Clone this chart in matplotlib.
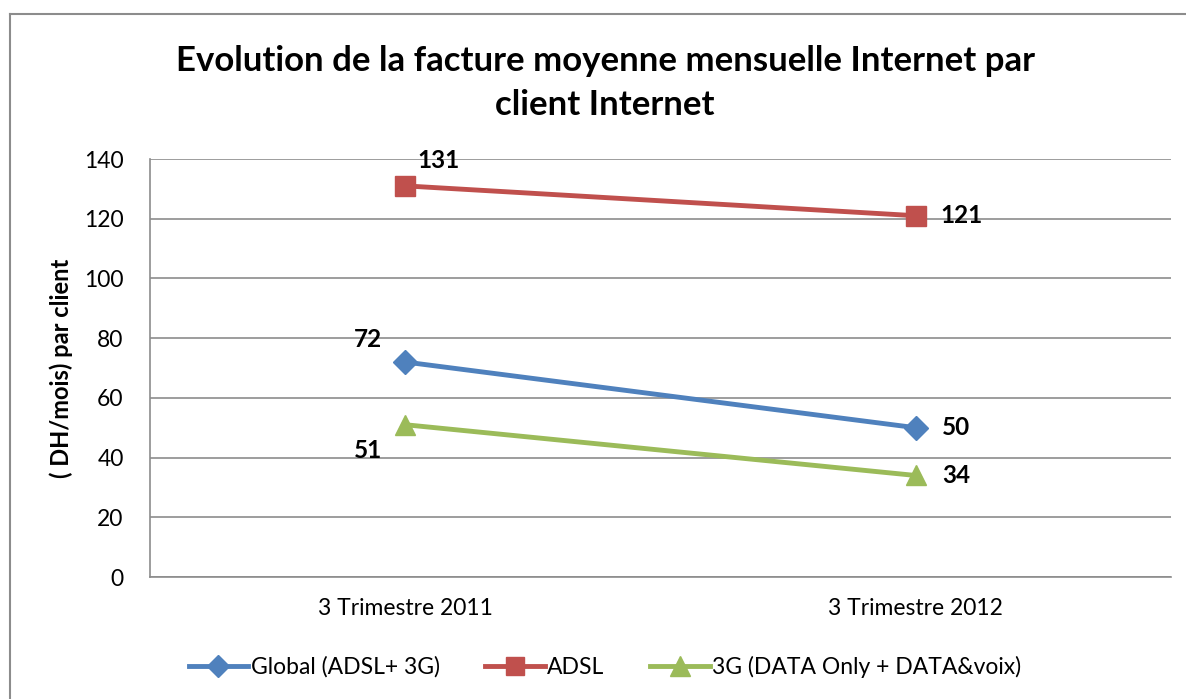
import matplotlib
matplotlib.use("Agg")
import matplotlib.pyplot as plt
from matplotlib.lines import Line2D

plt.rcParams['font.family'] = ['Lato', 'DejaVu Sans']

categories = ["3 Trimestre 2011", "3 Trimestre 2012"]
series_names = ["Global (ADSL+ 3G)", "ADSL", "3G (DATA Only + DATA&voix)"]
global_vals = [72, 50]
adsl_vals = [131, 121]
g3_vals = [51, 34]
yticks = [0, 20, 40, 60, 80, 100, 120, 140]

colors = ["#4F81BD", "#C0504D", "#9BBB59"]
markers = ["D", "s", "^"]
msizes = [12, 14, 15]

fig = plt.figure(figsize=(11.86, 6.99), dpi=100)
ax = fig.add_axes([150/1186, 1-577/699, (1171-150)/1186, (577-159)/699])

x = list(range(len(categories)))
all_vals = [global_vals, adsl_vals, g3_vals]
for vals, c, m, ms, name in zip(all_vals, colors, markers, msizes, series_names):
    ax.plot(x, vals, color=c, lw=3.5, marker=m, markersize=ms, label=name,
            solid_capstyle='round', zorder=3)

# data labels
lab_kw = dict(fontsize=17.5, fontweight='bold', color='black', zorder=4)
ax.annotate(str(adsl_vals[0]), (0, adsl_vals[0]), xytext=(33, 25), textcoords='offset pixels', ha='center', va='center', **lab_kw)
ax.annotate(str(adsl_vals[1]), (1, adsl_vals[1]), xytext=(46, 0), textcoords='offset pixels', ha='center', va='center', **lab_kw)
ax.annotate(str(global_vals[0]), (0, global_vals[0]), xytext=(-37, 23), textcoords='offset pixels', ha='center', va='center', **lab_kw)
ax.annotate(str(global_vals[1]), (1, global_vals[1]), xytext=(40, 0), textcoords='offset pixels', ha='center', va='center', **lab_kw)
ax.annotate(str(g3_vals[0]), (0, g3_vals[0]), xytext=(-37, -26), textcoords='offset pixels', ha='center', va='center', **lab_kw)
ax.annotate(str(g3_vals[1]), (1, g3_vals[1]), xytext=(40, 0), textcoords='offset pixels', ha='center', va='center', **lab_kw)

ax.set_xlim(-0.5, 1.5)
ax.set_ylim(0, 140)
ax.set_yticks(yticks)
ax.set_xticks(x)
ax.set_xticklabels(categories)
ax.tick_params(axis='both', length=0, labelsize=16.5, colors='black')
ax.tick_params(axis='y', pad=19)
ax.tick_params(axis='x', pad=15)
ax.yaxis.grid(True, color='#8C8C8C', lw=1.2)
ax.set_axisbelow(True)
for s in ['top', 'right']:
    ax.spines[s].set_visible(False)
for s in ['left', 'bottom']:
    ax.spines[s].set_color('#8C8C8C')
    ax.spines[s].set_linewidth(1.2)

ax.set_ylabel("( DH/mois) par client", fontsize=17, fontweight='bold', labelpad=8)

fig.text(605/1186, 1-83/699, "Evolution de la facture moyenne mensuelle Internet par\nclient Internet",
         ha='center', va='center', fontsize=25, fontweight='bold', linespacing=1.45)

handles = [Line2D([0], [0], color=c, lw=3.5, marker=m, markersize=ms-1) for c, m, ms in zip(colors, markers, msizes)]
fig.legend(handles, series_names, loc='center', bbox_to_anchor=(605/1186, 1-667/699), ncol=3,
           frameon=False, fontsize=16.5, handlelength=2.6, handletextpad=0.1, columnspacing=2.0)

# outer frame (top and left edges)
fig.add_artist(Line2D([10/1186, 1], [1-14/699, 1-14/699], color='#8C8C8C', lw=1.5, transform=fig.transFigure))
fig.add_artist(Line2D([10/1186, 10/1186], [0, 1-14/699], color='#8C8C8C', lw=1.5, transform=fig.transFigure))

fig.savefig("out.png", dpi=100)
